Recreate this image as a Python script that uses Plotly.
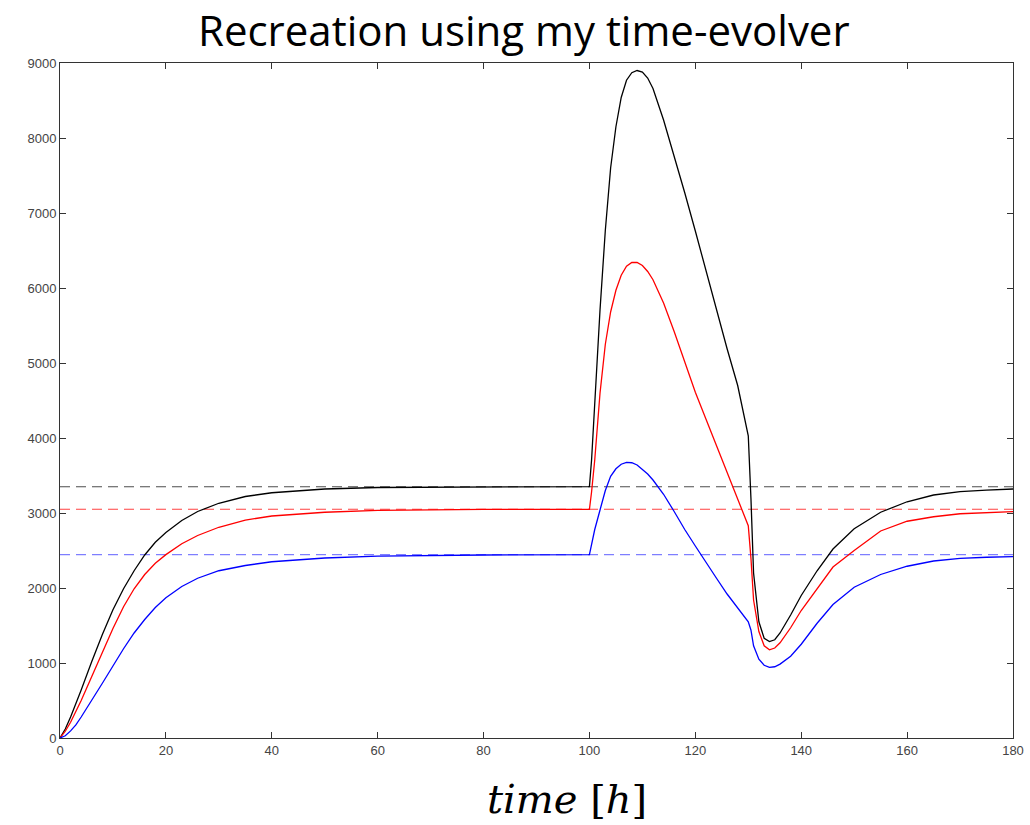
import plotly.graph_objects as go

# time grid (hours)
t = [0, 1, 2, 3, 4, 6, 8, 10, 12, 14, 16, 18, 20, 23, 26, 30, 35, 40, 50, 60, 80,
     100, 100.4, 101, 102, 103, 104, 105, 106, 107, 108, 109, 110, 111, 112, 114, 116,
     118, 120, 122, 124, 126, 128, 130, 130.5, 131, 132, 133, 134, 135, 136, 138, 140,
     143, 146, 150, 155, 160, 165, 170, 175, 180]

black = [0, 120, 280, 450, 640, 1020, 1380, 1710, 1990, 2230, 2440, 2610, 2740, 2900, 3020,
         3130, 3220, 3270, 3320, 3340, 3350,
         3352, 3707, 4460, 5710, 6770, 7600, 8150, 8540, 8770, 8870, 8900, 8880, 8800, 8660,
         8240, 7760, 7270, 6760, 6230, 5700, 5190, 4700, 4030, 3200, 2200, 1550, 1330,
         1285, 1310, 1400, 1640, 1900, 2230, 2520, 2790, 3010, 3150, 3240, 3285, 3305, 3320]

red = [0, 90, 210, 350, 500, 820, 1150, 1460, 1750, 1990, 2180, 2330, 2445, 2590, 2700,
       2810, 2905, 2960, 3010, 3035, 3048,
       3050, 3280, 3707, 4600, 5250, 5680, 5970, 6170, 6290, 6340, 6342, 6300, 6220, 6110,
       5800, 5420, 5000, 4610, 4254, 3898, 3542, 3186, 2830, 2400, 1840, 1420, 1230,
       1175, 1200, 1270, 1470, 1700, 1990, 2280, 2500, 2760, 2890, 2950, 2990, 3005, 3018]

blue = [0, 30, 95, 175, 280, 500, 730, 960, 1190, 1400, 1580, 1740, 1870, 2020, 2130,
        2230, 2300, 2350, 2400, 2425, 2440,
        2445, 2580, 2780, 3040, 3300, 3490, 3590, 3650, 3675, 3670, 3640, 3580, 3520, 3440,
        3250, 3020, 2780, 2560, 2340, 2130, 1920, 1730, 1550, 1440, 1230, 1050, 970,
        942, 950, 985, 1090, 1250, 1530, 1780, 2010, 2180, 2290, 2360, 2395, 2410, 2418]

# steady-state reference levels (dashed)
ref_black = 3350
ref_red = 3050
ref_blue = 2445

x_range = [0, 180]
y_range = [0, 9000]

fig = go.Figure()

for lvl, col in [(ref_black, "rgba(0,0,0,0.7)"), (ref_red, "rgba(255,0,0,0.75)"),
                 (ref_blue, "rgba(40,40,255,0.6)")]:
    fig.add_trace(go.Scatter(x=x_range, y=[lvl, lvl], mode="lines",
                             line=dict(color=col, width=1.2, dash="10px,6px"),
                             hoverinfo="skip", showlegend=False))

for ys, col in [(black, "#000000"), (red, "#ff0000"), (blue, "#0000ff")]:
    fig.add_trace(go.Scatter(x=t, y=ys, mode="lines",
                             line=dict(color=col, width=1.3), showlegend=False))

axis_common = dict(
    showline=True, linecolor="#333333", linewidth=1, mirror="ticks",
    ticks="inside", ticklen=6, tickcolor="#333333", showgrid=False, zeroline=False,
    automargin=False,
    tickfont=dict(family="Liberation Sans, Arial, sans-serif", size=13, color="#444444"),
)

fig.update_xaxes(range=x_range, dtick=20, tick0=0, **axis_common)
fig.update_yaxes(range=y_range, dtick=1000, tick0=0, **axis_common)

fig.update_layout(
    width=1030, height=825,
    margin=dict(l=60, r=17, t=63, b=87),
    paper_bgcolor="white", plot_bgcolor="white",
    annotations=[
        dict(text="Recreation using my time-evolver", x=0.487, y=1.0, xref="paper", yref="paper",
             yanchor="bottom", xanchor="center", yshift=3, showarrow=False,
             font=dict(family="Open Sans, Noto Sans, sans-serif", size=42, color="black")),
        dict(text="<i>time</i> [<i>h</i>]", x=0.532, y=0, xref="paper", yref="paper",
             yanchor="top", xanchor="center", yshift=-36, showarrow=False,
             font=dict(family="DejaVu Serif, Liberation Serif, serif", size=40, color="black")),
    ],
)

fig.write_html("out.html")
